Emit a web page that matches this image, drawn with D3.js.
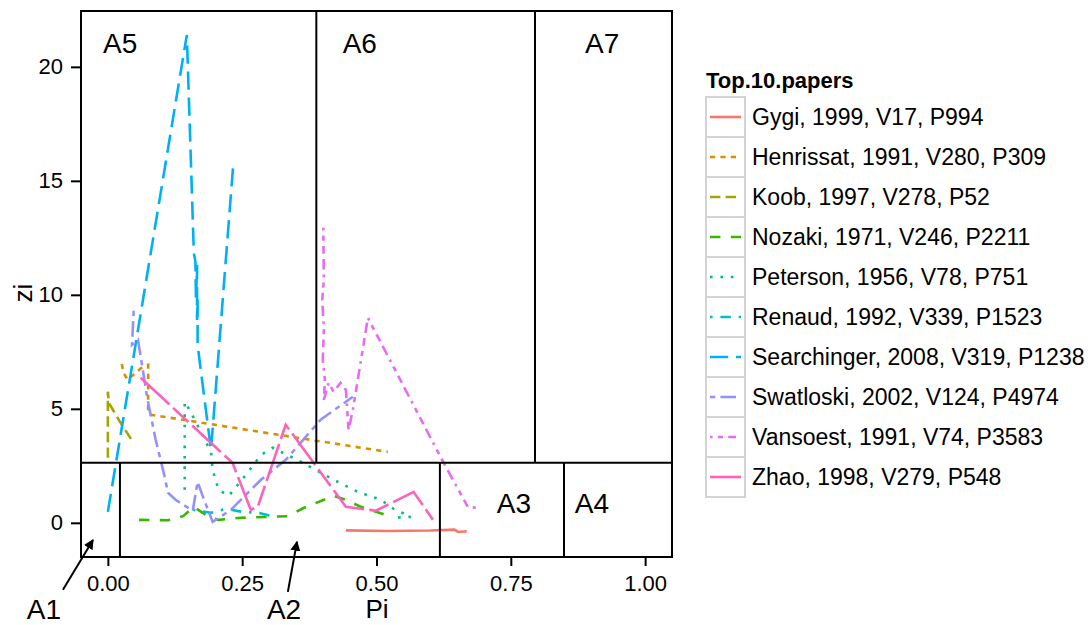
<!DOCTYPE html>
<html>
<head>
<meta charset="utf-8">
<script src="https://cdn.jsdelivr.net/npm/d3@7/dist/d3.min.js"></script>
<style>
body { margin: 0; background: #fff; }
svg text { font-family: "Liberation Sans", Arial, Helvetica, sans-serif; fill: #000; }
</style>
</head>
<body>
<svg id="chart" width="1090" height="625"></svg>
<script>
// legend entries, in ggplot factor order
var papers = ["Gygi, 1999, V17, P994", "Henrissat, 1991, V280, P309", "Koob, 1997, V278, P52",
              "Nozaki, 1971, V246, P2211", "Peterson, 1956, V78, P751", "Renaud, 1992, V339, P1523",
              "Searchinger, 2008, V319, P1238", "Swatloski, 2002, V124, P4974",
              "Vansoest, 1991, V74, P3583", "Zhao, 1998, V279, P548"];

// one pair of arrays per paper (Pi, zi)
var piGygi = [0.443, 0.52, 0.60, 0.645, 0.652, 0.668];
var ziGygi = [-0.33, -0.36, -0.34, -0.30, -0.40, -0.37];
var piHenrissat = [0.026, 0.029, 0.037, 0.052, 0.066, 0.075, 0.075, 0.080, 0.521];
var ziHenrissat = [6.97, 6.58, 6.27, 6.59, 6.86, 6.93, 4.82, 4.74, 3.11];
var piKoob = [0.0, 0.0, 0.002, 0.022, 0.046];
var ziKoob = [2.85, 5.75, 5.25, 4.45, 3.57];
var piNozaki = [0.058, 0.112, 0.140, 0.160, 0.188, 0.205, 0.247, 0.335, 0.365, 0.420, 0.443, 0.471, 0.517];
var ziNozaki = [0.13, 0.11, 0.29, 0.70, 0.26, 0.13, 0.22, 0.29, 0.66, 1.18, 1.01, 0.70, 0.35];
var piPeterson = [0.143, 0.143, 0.154, 0.173, 0.192, 0.195, 0.206, 0.225, 0.257, 0.285, 0.307, 0.359, 0.420, 0.465, 0.508, 0.532, 0.564, 0.532];
var ziPeterson = [1.45, 5.31, 4.87, 3.99, 3.11, 2.32, 1.45, 1.18, 2.11, 2.98, 3.29, 2.68, 1.89, 1.36, 1.01, 0.61, 0.26, 0.22];
var piRenaud = [0.158, 0.192, 0.219, 0.251, 0.281, 0.303];
var ziRenaud = [0.57, 0.44, 0.61, 0.48, 0.44, 0.31];
var piSearchinger = [0.0, 0.147, 0.160, 0.163, 0.164, 0.166, 0.166, 0.167, 0.167, 0.180, 0.192, 0.233];
var ziSearchinger = [0.48, 21.4, 11.84, 11.45, 9.78, 11.32, 8.9, 9.78, 7.81, 5.39, 3.2, 15.6];
var piSwatloski = [0.048, 0.045, 0.056, 0.074, 0.089, 0.104, 0.112, 0.126, 0.158, 0.167, 0.177, 0.195, 0.229, 0.285, 0.331, 0.396, 0.456];
var ziSwatloski = [9.30, 7.81, 8.03, 5.39, 3.64, 2.19, 1.32, 1.01, 0.53, 1.80, 1.14, 0.04, 0.57, 1.89, 2.76, 4.52, 5.53];
var piVansoest = [0.401, 0.402, 0.399, 0.402, 0.400, 0.404, 0.402, 0.411, 0.420, 0.433, 0.443, 0.448, 0.456, 0.484, 0.625, 0.670, 0.685];
var ziVansoest = [12.94, 10.66, 9.78, 8.46, 7.15, 6.27, 5.39, 6.14, 5.75, 6.14, 5.83, 4.08, 4.96, 8.99, 2.63, 0.70, 0.66];
var piZhao = [0.061, 0.232, 0.266, 0.279, 0.331, 0.443, 0.499, 0.569, 0.605];
var ziZhao = [6.36, 2.63, 0.57, 0.70, 4.30, 0.70, 0.53, 1.36, 0.13];

var xTicks = [0, 0.25, 0.5, 0.75, 1];
var yTicks = [0, 5, 10, 15, 20];

// hand drawn region boxes (data units)
var zSplit = 2.63;
var upperSplits = [0.388, 0.795];
var lowerSplits = [0.0225, 0.618, 0.849];
var regionNames = ["A1", "A2", "A3", "A4", "A5", "A6", "A7"];
var regionX = [-0.151, 0.296, 0.724, 0.869, -0.009, 0.437, 0.888];
var regionZ = [-4.2, -4.2, 0.44, 0.44, 20.61, 20.61, 20.61];

var colors = ["#F8766D", "#D89000", "#A3A500", "#39B600", "#00BF7D", "#00BFC4", "#00B0F6", "#9590FF", "#E76BF3", "#FF62BC"];
var dashUnits = [[], [2, 2], [4, 2], [4, 4], [1, 3], [1, 3, 4, 3], [7, 3], [2, 2, 6, 2], [1, 2, 2, 2, 3, 2, 4, 2], [15, 2, 8, 2]];
var unit = 2.6;

var allPi = [piGygi, piHenrissat, piKoob, piNozaki, piPeterson, piRenaud, piSearchinger, piSwatloski, piVansoest, piZhao];
var allZi = [ziGygi, ziHenrissat, ziKoob, ziNozaki, ziPeterson, ziRenaud, ziSearchinger, ziSwatloski, ziVansoest, ziZhao];

var series = papers.map(function (name, i) {
    return { name: name, color: colors[i], dash: dashUnits[i].map(function (d) { return d * unit; }).join(" "),
             values: allPi[i].map(function (p, j) { return { pi: p, zi: allZi[i][j] }; }) };
});

var svg = d3.select("#chart");
var plotL = 81, plotR = 672, plotT = 11, plotB = 557;

var x = d3.scaleLinear().domain([-0.05, 1.05]).range([plotL, plotR]);
var y = d3.scaleLinear().domain([-1.5, 22.45]).range([plotB, plotT]);

var line = d3.line()
    .x(function (d) { return x(d.pi); })
    .y(function (d) { return y(d.zi); });

// series lines
svg.append("g").selectAll("path")
    .data(series)
    .enter()
    .append("path")
    .attr("d", function (d) { return line(d.values); })
    .attr("fill", "none")
    .attr("stroke", function (d) { return d.color; })
    .attr("stroke-width", 2.6)
    .attr("stroke-dasharray", function (d) { return d.dash || null; });

// region boxes
var boxes = svg.append("g").attr("stroke", "#000").attr("stroke-width", 2).attr("fill", "none");
boxes.append("line").attr("x1", plotL).attr("x2", plotR).attr("y1", y(zSplit)).attr("y2", y(zSplit));
upperSplits.forEach(function (v) {
    boxes.append("line").attr("x1", x(v)).attr("x2", x(v)).attr("y1", plotT).attr("y2", y(zSplit));
});
lowerSplits.forEach(function (v) {
    boxes.append("line").attr("x1", x(v)).attr("x2", x(v)).attr("y1", y(zSplit)).attr("y2", plotB);
});
boxes.append("rect").attr("x", plotL).attr("y", plotT).attr("width", plotR - plotL).attr("height", plotB - plotT);

svg.append("g").selectAll("text")
    .data(regionNames)
    .enter()
    .append("text")
    .attr("x", function (d, i) { return x(regionX[i]); })
    .attr("y", function (d, i) { return y(regionZ[i]); })
    .attr("font-size", 28)
    .text(function (d) { return d; });

// arrows for A1 / A2
svg.append("defs").append("marker")
    .attr("id", "head").attr("viewBox", "0 0 10 10").attr("refX", 9).attr("refY", 5)
    .attr("markerWidth", 5).attr("markerHeight", 5).attr("orient", "auto")
    .append("path").attr("d", "M0,0L10,5L0,10Z").attr("fill", "#000");
var arrowFrom = [[-0.0836, -2.94], [0.335, -3.03]];
var arrowTo = [[-0.0277, -0.75], [0.352, -0.83]];
arrowFrom.forEach(function (a, i) {
    svg.append("line")
        .attr("x1", x(a[0])).attr("y1", y(a[1]))
        .attr("x2", x(arrowTo[i][0])).attr("y2", y(arrowTo[i][1]))
        .attr("stroke", "#000").attr("stroke-width", 2)
        .attr("marker-end", "url(#head)");
});

// axes
var xAxis = svg.append("g")
    .attr("transform", "translate(0," + plotB + ")")
    .call(d3.axisBottom(x).tickValues(xTicks).tickFormat(d3.format(".2f")).tickSize(9).tickPadding(9).tickSizeOuter(0));
var yAxis = svg.append("g")
    .attr("transform", "translate(" + plotL + ",0)")
    .call(d3.axisLeft(y).tickValues(yTicks).tickSize(10).tickPadding(8).tickSizeOuter(0));
[xAxis, yAxis].forEach(function (g) {
    g.select(".domain").remove();
    g.selectAll("line").attr("stroke", "#000").attr("stroke-width", 2);
    g.selectAll("text").attr("font-size", 22).attr("font-family", "Liberation Sans, Arial, sans-serif").attr("fill", "#000");
});

svg.append("text").attr("x", 377).attr("y", 618).attr("text-anchor", "middle").attr("font-size", 26).text("Pi");
svg.append("text").attr("transform", "translate(32,293) rotate(-90)").attr("text-anchor", "middle").attr("font-size", 26).text("zi");

// legend
var legend = svg.append("g").attr("transform", "translate(706,0)");
legend.append("text").attr("x", 0).attr("y", 88).attr("font-size", 22).attr("font-weight", "bold").text("Top.10.papers");
var rows = legend.selectAll("g.row")
    .data(series)
    .enter()
    .append("g")
    .attr("class", "row")
    .attr("transform", function (d, i) { return "translate(0," + (97 + i * 40) + ")"; });
rows.append("rect")
    .attr("width", 39).attr("height", 40)
    .attr("fill", "#fff").attr("stroke", "#d4d4d4").attr("stroke-width", 2);
rows.append("line")
    .attr("x1", 4).attr("x2", 35).attr("y1", 20).attr("y2", 20)
    .attr("stroke", function (d) { return d.color; })
    .attr("stroke-width", 2.6)
    .attr("stroke-dasharray", function (d) { return d.dash || null; });
rows.append("text")
    .attr("x", 46).attr("y", 28)
    .attr("font-size", 23)
    .text(function (d) { return d.name; });
</script>
</body>
</html>
